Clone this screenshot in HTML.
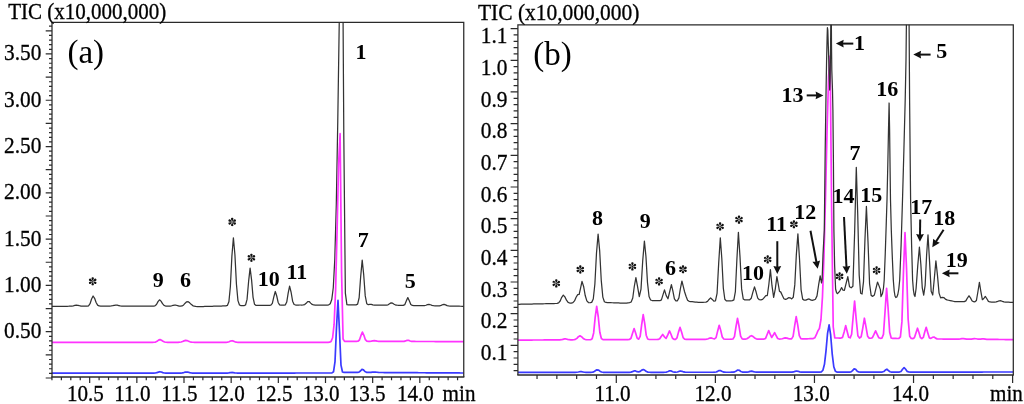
<!DOCTYPE html>
<html><head><meta charset="utf-8"><title>TIC chromatograms</title>
<style>html,body{margin:0;padding:0;background:#fff;width:1024px;height:404px;overflow:hidden}</style>
</head><body>
<svg width="1024" height="404" viewBox="0 0 1024 404" style="font-family:'Liberation Serif',serif;display:block;will-change:transform"><style>text{stroke:#000;stroke-width:0.3px;paint-order:stroke}text.n{stroke:none}</style><defs><clipPath id="ca"><rect x="52.0" y="22.4" width="411.75" height="354.6"/></clipPath><clipPath id="cb"><rect x="517.9" y="24.8" width="495.4" height="350.2"/></clipPath><marker id="ah" viewBox="0 0 8 8" refX="7.6" refY="4" markerWidth="8" markerHeight="8" markerUnits="userSpaceOnUse" orient="auto"><path d="M0,0 L7.6,4 L0,8 L0.6,4 Z" fill="#111"/></marker><g id="ast" fill="#111"><path d="M0,-0.4 C-0.45,-1.4 -1.3,-2.4 -1.2,-3.3 C-1.1,-4.45 1.1,-4.45 1.2,-3.3 C1.3,-2.4 0.45,-1.4 0,-0.4 Z" transform="rotate(0)"/><path d="M0,-0.4 C-0.45,-1.4 -1.3,-2.4 -1.2,-3.3 C-1.1,-4.45 1.1,-4.45 1.2,-3.3 C1.3,-2.4 0.45,-1.4 0,-0.4 Z" transform="rotate(60)"/><path d="M0,-0.4 C-0.45,-1.4 -1.3,-2.4 -1.2,-3.3 C-1.1,-4.45 1.1,-4.45 1.2,-3.3 C1.3,-2.4 0.45,-1.4 0,-0.4 Z" transform="rotate(120)"/><path d="M0,-0.4 C-0.45,-1.4 -1.3,-2.4 -1.2,-3.3 C-1.1,-4.45 1.1,-4.45 1.2,-3.3 C1.3,-2.4 0.45,-1.4 0,-0.4 Z" transform="rotate(180)"/><path d="M0,-0.4 C-0.45,-1.4 -1.3,-2.4 -1.2,-3.3 C-1.1,-4.45 1.1,-4.45 1.2,-3.3 C1.3,-2.4 0.45,-1.4 0,-0.4 Z" transform="rotate(240)"/><path d="M0,-0.4 C-0.45,-1.4 -1.3,-2.4 -1.2,-3.3 C-1.1,-4.45 1.1,-4.45 1.2,-3.3 C1.3,-2.4 0.45,-1.4 0,-0.4 Z" transform="rotate(300)"/><circle r="0.6"/></g></defs><rect width="1024" height="404" fill="#fff"/><polyline points="52,373.20 53.50,373.20 54.99,373.20 56.49,373.20 57.99,373.20 59.49,373.19 60.98,373.19 62.48,373.19 63.98,373.19 65.48,373.19 66.97,373.19 68.47,373.19 69.97,373.19 71.47,373.19 72.96,373.18 74.46,373.18 75.96,373.18 77.46,373.18 78.95,373.18 80.45,373.18 81.95,373.18 83.45,373.18 84.94,373.18 86.44,373.18 87.94,373.17 89.43,373.17 90.93,373.17 92.43,373.17 93.93,373.17 95.42,373.17 96.92,373.17 98.42,373.17 99.92,373.17 101.41,373.16 102.91,373.16 104.41,373.16 105.91,373.16 107.40,373.16 108.90,373.16 110.40,373.16 111.90,373.16 113.39,373.16 114.89,373.15 116.39,373.15 117.88,373.15 119.38,373.15 120.88,373.15 122.38,373.15 123.87,373.15 125.37,373.15 126.87,373.15 128.37,373.15 129.86,373.14 131.36,373.14 132.86,373.14 134.36,373.14 135.85,373.14 137.35,373.14 138.85,373.14 140.35,373.14 141.84,373.14 143.34,373.13 144.84,373.13 146.34,373.13 147.83,373.13 149.33,373.13 150.83,373.13 152.32,373.13 153.82,373.11 155.32,373.02 156.82,372.70 158.31,372.10 159.81,371.72 161.31,372.03 162.81,372.63 164.30,373.00 165.80,373.10 167.30,373.12 168.80,373.12 170.29,373.11 171.79,373.11 173.29,373.11 174.79,373.11 176.28,373.11 177.78,373.11 179.28,373.10 180.77,373.04 182.27,372.88 183.77,372.55 185.27,372.17 186.76,372.00 188.26,372.20 189.76,372.58 191.26,372.89 192.75,373.04 194.25,373.09 195.75,373.10 197.25,373.10 198.74,373.09 200.24,373.09 201.74,373.09 203.24,373.09 204.73,373.09 206.23,373.09 207.73,373.09 209.23,373.09 210.72,373.09 212.22,373.08 213.72,373.08 215.21,373.08 216.71,373.08 218.21,373.08 219.71,373.08 221.20,373.08 222.70,373.08 224.20,373.08 225.70,373.07 227.19,373.04 228.69,372.91 230.19,372.66 231.69,372.47 233.18,372.58 234.68,372.84 236.18,373.01 237.68,373.06 239.17,373.06 240.67,373.06 242.17,373.06 243.66,373.06 245.16,373.06 246.66,373.06 248.16,373.06 249.65,373.06 251.15,373.06 252.65,373.06 254.15,373.05 255.64,373.05 257.14,373.05 258.64,373.05 260.14,373.05 261.63,373.05 263.13,373.05 264.63,373.05 266.13,373.05 267.62,373.04 269.12,373.04 270.62,373.04 272.12,373.04 273.61,373.04 275.11,373.04 276.61,373.04 278.10,373.04 279.60,373.04 281.10,373.04 282.60,373.03 284.09,373.03 285.59,373.03 287.09,373.03 288.59,373.03 290.08,373.03 291.58,373.03 293.08,373.03 294.58,373.03 296.07,373.02 297.57,373.02 299.07,373.02 300.57,373.02 302.06,373.02 303.56,373.02 305.06,373.02 306.55,373.02 308.05,373.02 309.55,373.01 311.05,373.01 312.54,373.01 314.04,373.01 315.54,373.01 317.04,373.01 318.53,373.01 320.03,373.01 321.53,373.01 323.03,373.01 324.52,373.00 326.02,373.00 327.52,373.00 329.02,373.00 330.51,372.98 332.01,372.87 333.51,371.76 335.01,361.61 336.50,327.44 338,300.45 339.50,331.82 340.99,365.18 342.49,372.03 343.99,372.38 345.49,372.32 346.98,372.31 348.48,372.31 349.98,372.32 351.47,372.33 352.97,372.34 354.47,372.35 355.96,372.36 357.46,372.35 358.96,372.15 360.46,371.00 361.95,369.33 363.45,369.82 364.95,371.51 366.44,372.29 367.94,372.42 369.44,372.42 370.93,372.35 372.43,372.16 373.93,371.99 375.43,372.03 376.92,372.24 378.42,372.42 379.92,372.49 381.41,372.51 382.91,372.52 384.41,372.53 385.90,372.54 387.40,372.55 388.90,372.55 390.40,372.56 391.89,372.57 393.39,372.58 394.89,372.59 396.38,372.60 397.88,372.61 399.38,372.62 400.88,372.63 402.37,372.63 403.87,372.64 405.37,372.65 406.86,372.66 408.36,372.67 409.86,372.68 411.35,372.69 412.85,372.70 414.35,372.71 415.85,372.71 417.34,372.72 418.84,372.73 420.34,372.74 421.83,372.75 423.33,372.76 424.83,372.77 426.32,372.78 427.82,372.79 429.32,372.79 430.82,372.80 432.31,372.81 433.81,372.82 435.31,372.83 436.80,372.84 438.30,372.85 439.80,372.86 441.29,372.87 442.79,372.87 444.29,372.88 445.79,372.89 447.28,372.90 448.78,372.91 450.28,372.92 451.77,372.93 453.27,372.94 454.77,372.95 456.26,372.95 457.76,372.96 459.26,372.97 460.76,372.98 462.25,372.99 463.75,373.00" fill="none" stroke="#3a3aff" stroke-width="1.7" stroke-linejoin="round" clip-path="url(#ca)"/><polyline points="52,306.30 53.52,306.30 55.04,306.29 56.57,306.29 58.09,306.28 59.61,306.28 61.13,306.27 62.66,306.27 64.18,306.26 65.70,306.26 67.22,306.25 68.74,306.24 70.27,306.19 71.79,306.06 73.31,305.77 74.83,305.41 76.36,305.23 77.88,305.38 79.40,305.73 80.92,306.02 82.44,306.15 83.97,306.19 85.49,306.19 87.01,306.16 88.53,305.78 90.06,303.74 91.58,299.05 93.10,295.97 94.61,298.29 96.12,302.53 97.63,305.16 99.14,305.99 100.65,306.14 102.15,306.15 103.66,306.14 105.17,306.14 106.68,306.13 108.19,306.12 109.70,306.09 111.21,305.97 112.72,305.71 114.23,305.35 115.74,305.12 117.25,305.20 118.75,305.53 120.26,305.84 121.77,306.01 123.28,306.07 124.79,306.07 126.30,306.07 127.81,306.07 129.32,306.06 130.83,306.06 132.34,306.05 133.85,306.05 135.35,306.04 136.86,306.04 138.37,306.04 139.88,306.03 141.39,306.03 142.90,306.02 144.41,306.02 145.92,306.01 147.43,306.01 148.94,306.00 150.45,306.01 151.95,306.02 153.46,306.02 154.97,305.79 156.48,304.53 157.99,301.66 159.50,299.81 161.01,301.15 162.52,303.69 164.02,305.41 165.53,306.04 167.04,306.18 168.55,306.17 170.06,306.06 171.57,305.77 173.07,305.36 174.58,305.10 176.09,305.24 177.60,305.66 179.11,306.05 180.61,306.21 182.12,305.96 183.63,304.92 185.14,303.18 186.65,301.82 188.16,301.73 189.66,302.87 191.17,304.36 192.68,305.57 194.19,306.24 195.70,306.49 197.20,306.56 198.71,306.58 200.22,306.59 201.73,306.55 203.24,306.51 204.74,306.47 206.25,306.43 207.76,306.39 209.27,306.35 210.78,306.31 212.29,306.27 213.79,306.23 215.30,306.19 216.81,306.15 218.32,306.11 219.83,306.07 221.33,306.03 222.84,305.99 224.35,305.95 225.86,305.88 227.37,305.43 228.88,301.84 230.38,286.51 231.89,256.15 233.40,237.76 234.92,254.77 236.44,284.25 237.95,300.62 239.47,305.01 240.99,305.62 242.51,305.65 244.03,305.61 245.55,304.97 247.06,299.41 248.58,281.68 250.10,268.07 251.58,279.91 253.06,297.34 254.55,304.29 256.03,305.42 257.51,305.48 258.99,305.47 260.48,305.45 261.96,305.43 263.44,305.42 264.92,305.40 266.41,305.38 267.89,305.37 269.37,305.34 270.85,305.16 272.34,303.36 273.82,296.83 275.30,291.48 276.73,296.01 278.16,302.46 279.59,304.85 281.02,305.19 282.45,305.20 283.88,305.17 285.31,304.85 286.74,302.07 288.17,293.07 289.60,286.12 291.11,292.27 292.61,301.13 294.12,304.51 295.62,305.01 297.13,305.03 298.63,305.02 300.14,305.00 301.65,305.01 303.15,304.97 304.66,304.59 306.16,303.29 307.67,301.55 309.17,301.54 310.68,303.09 312.19,304.45 313.69,304.98 315.20,305.09 316.70,305.11 318.21,305.12 319.71,305.13 321.22,305.14 322.73,305.15 324.23,305.16 325.74,305.16 327.24,305.12 328.75,304.85 330.25,303.69 331.76,299.58 333.27,287.74 334.77,259.60 336.28,205.12 337.78,120.69 339.29,19.53 340.79,-66.15 342.30,-100.11 343.83,137.86 345.36,293.11 346.89,304.67 348.42,304.82 349.95,304.84 351.48,304.85 353.02,304.86 354.55,304.88 356.08,304.86 357.61,304.18 359.14,297.74 360.67,276.59 362.20,260.15 363.72,274.93 365.24,295.92 366.76,303.73 368.28,304.66 369.80,304.30 371.32,304.35 372.84,304.81 374.36,305.03 375.88,305.08 377.40,305.09 378.92,305.10 380.44,305.12 381.96,305.13 383.48,305.15 385,305.16 386.52,305.11 388.04,304.77 389.56,303.78 391.08,302.86 392.60,303.23 394.12,304.29 395.64,305.01 397.16,305.24 398.68,305.28 400.20,305.30 401.72,305.33 403.24,305.31 404.76,304.64 406.28,301.07 407.80,297.62 409.31,300.75 410.82,304.45 412.34,305.41 413.85,305.51 415.36,305.54 416.87,305.56 418.39,305.59 419.90,305.61 421.41,305.63 422.92,305.64 424.43,305.57 425.95,305.24 427.46,304.65 428.97,304.35 430.48,304.75 431.99,305.38 433.51,305.72 435.02,305.83 436.53,305.87 438.04,305.88 439.56,305.78 441.07,305.40 442.58,304.72 444.09,304.39 445.60,304.85 447.12,305.56 448.63,305.95 450.14,306.07 451.65,306.11 453.16,306.13 454.68,306.15 456.19,306.18 457.70,306.20 459.21,306.23 460.73,306.25 462.24,306.27 463.75,306.30" fill="none" stroke="#333333" stroke-width="1.25" stroke-linejoin="round" clip-path="url(#ca)"/><polyline points="52,342.30 53.50,342.30 55,342.30 56.50,342.30 58,342.30 59.50,342.30 61,342.30 62.50,342.30 64,342.30 65.50,342.30 67.01,342.30 68.51,342.30 70.01,342.30 71.51,342.30 73.01,342.30 74.51,342.30 76.01,342.30 77.51,342.30 79.01,342.30 80.51,342.30 82.01,342.30 83.51,342.30 85.01,342.30 86.51,342.30 88.01,342.30 89.51,342.30 91.01,342.30 92.51,342.30 94.01,342.30 95.52,342.30 97.02,342.30 98.52,342.30 100.02,342.30 101.52,342.30 103.02,342.30 104.52,342.30 106.02,342.30 107.52,342.30 109.02,342.30 110.52,342.30 112.02,342.30 113.52,342.30 115.02,342.30 116.52,342.30 118.02,342.30 119.52,342.30 121.02,342.30 122.52,342.30 124.03,342.30 125.53,342.30 127.03,342.30 128.53,342.30 130.03,342.30 131.53,342.30 133.03,342.30 134.53,342.30 136.03,342.30 137.53,342.30 139.03,342.30 140.53,342.30 142.03,342.30 143.53,342.30 145.03,342.30 146.53,342.30 148.03,342.30 149.53,342.30 151.03,342.30 152.53,342.30 154.04,342.26 155.54,342.05 157.04,341.33 158.54,340.16 160.04,339.61 161.54,340.25 163.04,341.32 164.54,342.01 166.04,342.25 167.54,342.29 169.04,342.30 170.54,342.30 172.04,342.30 173.54,342.30 175.04,342.30 176.54,342.30 178.04,342.29 179.54,342.22 181.04,342.01 182.55,341.53 184.05,340.86 185.55,340.42 187.05,340.59 188.55,341.22 190.05,341.82 191.55,342.15 193.05,342.27 194.55,342.30 196.05,342.30 197.55,342.30 199.05,342.30 200.55,342.30 202.05,342.30 203.55,342.30 205.05,342.30 206.55,342.30 208.05,342.30 209.55,342.30 211.06,342.30 212.56,342.30 214.06,342.30 215.56,342.30 217.06,342.30 218.56,342.30 220.06,342.30 221.56,342.30 223.06,342.30 224.56,342.30 226.06,342.28 227.56,342.15 229.06,341.72 230.56,341.02 232.06,340.71 233.56,341.17 235.06,341.84 236.56,342.19 238.06,342.29 239.57,342.30 241.07,342.30 242.57,342.30 244.07,342.30 245.57,342.30 247.07,342.30 248.57,342.30 250.07,342.30 251.57,342.30 253.07,342.30 254.57,342.30 256.07,342.30 257.57,342.30 259.07,342.30 260.57,342.30 262.07,342.30 263.57,342.30 265.07,342.30 266.57,342.30 268.08,342.30 269.58,342.30 271.08,342.30 272.58,342.30 274.08,342.30 275.58,342.30 277.08,342.30 278.58,342.30 280.08,342.30 281.58,342.30 283.08,342.30 284.58,342.30 286.08,342.30 287.58,342.30 289.08,342.30 290.58,342.30 292.08,342.30 293.58,342.30 295.08,342.30 296.58,342.30 298.09,342.30 299.59,342.30 301.09,342.30 302.59,342.30 304.09,342.30 305.59,342.30 307.09,342.30 308.59,342.30 310.09,342.30 311.59,342.30 313.09,342.30 314.59,342.30 316.09,342.30 317.59,342.30 319.09,342.30 320.59,342.30 322.09,342.30 323.59,342.30 325.09,342.30 326.60,342.30 328.10,342.29 329.60,342.19 331.10,341.43 332.60,337.76 334.10,324.47 335.60,290.13 337.10,229.71 338.60,163.53 340.10,133.67 341.59,272.69 343.07,338.98 344.56,341.38 346.05,341.30 347.53,341.30 349.02,341.31 350.51,341.31 351.99,341.32 353.48,341.32 354.97,341.32 356.45,341.32 357.94,341.22 359.43,340.03 360.91,335.65 362.40,332.04 363.89,335.32 365.38,339.71 366.87,341.17 368.36,341.34 369.85,341.31 371.34,341.16 372.83,340.87 374.32,340.67 375.81,340.81 377.30,341.12 378.79,341.31 380.29,341.38 381.78,341.39 383.27,341.39 384.76,341.40 386.25,341.40 387.74,341.41 389.23,341.41 390.72,341.41 392.21,341.42 393.70,341.42 395.19,341.43 396.68,341.43 398.17,341.43 399.66,341.44 401.15,341.44 402.64,341.44 404.13,341.35 405.62,340.94 407.11,340.27 408.60,340.31 410.09,341.00 411.58,341.39 413.07,341.46 414.57,341.47 416.06,341.48 417.55,341.48 419.04,341.49 420.53,341.49 422.02,341.49 423.51,341.50 425,341.50 426.49,341.50 427.98,341.51 429.47,341.51 430.96,341.52 432.45,341.52 433.94,341.52 435.43,341.53 436.92,341.53 438.41,341.53 439.90,341.54 441.39,341.54 442.88,341.55 444.37,341.55 445.86,341.55 447.36,341.56 448.85,341.56 450.34,341.57 451.83,341.57 453.32,341.57 454.81,341.58 456.30,341.58 457.79,341.58 459.28,341.59 460.77,341.59 462.26,341.60 463.75,341.60" fill="none" stroke="#ff33ff" stroke-width="1.7" stroke-linejoin="round" clip-path="url(#ca)"/><polyline points="517.90,372.40 519.45,372.40 521,372.40 522.54,372.40 524.09,372.40 525.64,372.39 527.19,372.39 528.74,372.39 530.29,372.39 531.83,372.39 533.38,372.39 534.93,372.39 536.48,372.39 538.03,372.38 539.58,372.38 541.12,372.38 542.67,372.38 544.22,372.38 545.77,372.38 547.32,372.38 548.87,372.38 550.41,372.37 551.96,372.37 553.51,372.37 555.06,372.37 556.61,372.37 558.15,372.37 559.70,372.37 561.25,372.37 562.80,372.36 564.35,372.36 565.90,372.36 567.44,372.36 568.99,372.36 570.54,372.36 572.09,372.36 573.64,372.35 575.19,372.34 576.73,372.25 578.28,372.01 579.83,371.71 581.38,371.69 582.93,371.97 584.48,372.23 586.02,372.32 587.57,372.34 589.12,372.34 590.67,372.33 592.22,372.25 593.76,371.84 595.31,370.83 596.86,369.83 598.41,370.05 599.96,371.19 601.51,372.02 603.05,372.28 604.60,372.33 606.15,372.33 607.70,372.33 609.25,372.33 610.80,372.33 612.34,372.32 613.89,372.32 615.44,372.32 616.99,372.32 618.54,372.32 620.09,372.32 621.63,372.32 623.18,372.32 624.73,372.31 626.28,372.31 627.83,372.31 629.37,372.29 630.92,372.14 632.47,371.61 634.02,370.91 635.57,370.97 637.12,371.67 638.66,371.96 640.21,371.37 641.76,370.14 643.31,369.50 644.86,370.31 646.41,371.52 647.95,372.13 649.50,372.27 651.05,372.29 652.60,372.29 654.15,372.29 655.70,372.29 657.24,372.29 658.79,372.29 660.34,372.29 661.89,372.28 663.44,372.28 664.98,372.25 666.53,372.06 668.08,371.43 669.63,370.73 671.18,370.94 672.73,371.72 674.27,372.16 675.82,372.22 677.37,372.01 678.92,371.43 680.47,370.97 682.02,371.31 683.56,371.93 685.11,372.21 686.66,372.26 688.21,372.26 689.76,372.26 691.30,372.26 692.85,372.26 694.40,372.26 695.95,372.26 697.50,372.26 699.05,372.25 700.59,372.25 702.14,372.25 703.69,372.25 705.24,372.25 706.79,372.25 708.34,372.25 709.88,372.25 711.43,372.24 712.98,372.24 714.53,372.22 716.08,372.03 717.63,371.37 719.17,370.54 720.72,370.66 722.27,371.53 723.82,372.08 725.37,372.22 726.91,372.23 728.46,372.23 730.01,372.23 731.56,372.22 733.11,372.18 734.66,371.89 736.20,370.98 737.75,369.99 739.30,370.31 740.85,371.44 742.40,372.07 743.95,372.20 745.49,372.21 747.04,372.16 748.59,371.89 750.14,371.35 751.69,371.13 753.24,371.56 754.78,372.02 756.33,372.18 757.88,372.20 759.43,372.20 760.98,372.20 762.52,372.20 764.07,372.20 765.62,372.20 767.17,372.20 768.72,372.20 770.27,372.20 771.81,372.20 773.36,372.19 774.91,372.19 776.46,372.19 778.01,372.19 779.56,372.19 781.10,372.19 782.65,372.19 784.20,372.19 785.75,372.18 787.30,372.18 788.85,372.18 790.39,372.18 791.94,372.14 793.49,371.93 795.04,371.39 796.59,370.98 798.13,371.30 799.68,371.87 801.23,372.12 802.78,372.17 804.33,372.17 805.88,372.17 807.42,372.17 808.97,372.17 810.52,372.16 812.07,372.16 813.62,372.16 815.17,372.16 816.71,372.16 818.26,372.15 819.81,372.12 821.36,371.83 822.91,370.22 824.46,364.31 826,350.87 827.55,333.41 829.10,324.85 830.66,334.98 832.23,354.12 833.79,366.75 835.35,371.15 836.91,372.03 838.48,372.13 840.04,372.14 841.60,372.14 843.16,372.14 844.73,372.14 846.29,372.13 847.85,372.13 849.41,372.11 850.98,371.86 852.54,370.60 854.10,368.80 855.66,369.32 857.23,371.21 858.79,372.01 860.35,372.12 861.91,372.12 863.48,372.12 865.04,372.12 866.60,372.12 868.16,372.12 869.73,372.12 871.29,372.11 872.85,372.11 874.41,372.11 875.98,372.11 877.54,372.11 879.10,372.11 880.66,372.10 882.23,372.05 883.79,371.55 885.35,370.07 886.91,369.23 888.48,370.53 890.04,371.77 891.60,372.07 893.16,372.10 894.73,372.10 896.29,372.09 897.85,372.09 899.41,372.03 900.98,371.42 902.54,369.30 904.10,367.59 905.66,369.29 907.22,371.41 908.78,372.02 910.34,372.08 911.90,372.08 913.46,372.08 915.02,372.08 916.58,372.08 918.14,372.08 919.70,372.08 921.26,372.07 922.82,372.07 924.38,372.07 925.94,372.07 927.50,372.07 929.06,372.07 930.62,372.07 932.18,372.07 933.74,372.06 935.30,372.06 936.86,372.06 938.42,372.06 939.98,372.06 941.54,372.06 943.10,372.06 944.66,372.06 946.22,372.05 947.78,372.05 949.34,372.05 950.90,372.05 952.46,372.05 954.02,372.05 955.58,372.05 957.14,372.05 958.70,372.04 960.26,372.04 961.82,372.04 963.38,372.04 964.94,372.04 966.50,372.04 968.06,372.04 969.62,372.04 971.18,372.03 972.74,372.03 974.30,372.03 975.86,372.03 977.42,372.03 978.98,372.03 980.54,372.03 982.10,372.03 983.66,372.02 985.22,372.02 986.78,372.02 988.34,372.02 989.90,372.02 991.46,372.02 993.02,372.02 994.58,372.02 996.14,372.01 997.70,372.01 999.26,372.01 1000.82,372.01 1002.38,372.01 1003.94,372.01 1005.50,372.01 1007.06,372.01 1008.62,372.00 1010.18,372.00 1011.74,372.00 1013.30,372.00" fill="none" stroke="#3a3aff" stroke-width="1.7" stroke-linejoin="round" clip-path="url(#cb)"/><polyline points="517.90,340.10 519.45,340.09 521,340.09 522.56,340.08 524.11,340.07 525.66,340.06 527.22,340.05 528.77,340.05 530.32,340.04 531.87,340.03 533.42,340.02 534.98,340.02 536.53,340.01 538.08,340.00 539.63,339.99 541.19,339.99 542.74,339.98 544.29,339.97 545.85,339.96 547.40,339.96 548.95,339.95 550.50,339.94 552.05,339.93 553.61,339.93 555.16,339.92 556.71,339.91 558.26,339.90 559.82,339.86 561.37,339.71 562.92,339.33 564.48,338.92 566.03,338.97 567.58,339.39 569.13,339.72 570.68,339.82 572.24,339.82 573.79,339.75 575.34,339.39 576.89,338.33 578.45,336.69 580,335.80 581.52,336.64 583.04,338.24 584.55,339.30 586.07,339.68 587.59,339.75 589.11,339.75 590.63,339.69 592.15,338.81 593.66,332.95 595.18,317.31 596.70,306.31 598.26,316.75 599.82,332.24 601.38,338.55 602.93,339.60 604.49,339.67 606.05,339.67 607.61,339.66 609.17,339.65 610.73,339.65 612.28,339.64 613.84,339.63 615.40,339.62 616.96,339.61 618.52,339.61 620.08,339.60 621.63,339.59 623.19,339.59 624.75,339.58 626.31,339.58 627.87,339.57 629.43,339.48 630.98,338.29 632.54,333.15 634.10,328.55 635.62,332.95 637.13,338.11 638.65,339.18 640.17,336.29 641.68,324.53 643.20,314.52 644.70,323.41 646.20,335.20 647.70,339.03 649.20,339.48 650.70,339.50 652.20,339.49 653.70,339.49 655.20,339.48 656.70,339.48 658.20,339.42 659.70,338.79 661.20,336.43 662.70,334.46 664.40,336.80 666.10,338.41 667.80,334.95 669.50,330.93 671,334.27 672.50,338.27 674,339.32 675.50,339.28 677,337.79 678.50,332.13 680,327.40 681.57,331.97 683.14,337.63 684.70,339.23 686.27,339.37 687.84,339.37 689.41,339.37 690.98,339.36 692.54,339.36 694.11,339.35 695.68,339.35 697.25,339.34 698.82,339.34 700.38,339.33 701.95,339.33 703.52,339.32 705.09,339.29 706.66,339.15 708.22,338.70 709.79,338.07 711.36,337.95 712.93,338.49 714.50,338.93 716.06,337.66 717.63,331.16 719.20,325.27 720.73,330.38 722.25,336.98 723.78,339.02 725.30,339.24 726.83,339.24 728.35,339.24 729.88,339.23 731.40,339.22 732.92,339.02 734.45,336.59 735.98,326.81 737.50,318.41 739.06,326.27 740.62,336.09 742.18,338.90 743.74,339.17 745.30,339.11 746.86,338.76 748.42,337.77 749.98,336.32 751.54,335.67 753.10,336.56 754.66,337.98 756.22,338.83 757.78,339.09 759.34,339.13 760.90,339.13 762.46,339.12 764.02,339.09 765.58,338.41 767.14,334.54 768.70,330.60 770.18,334.18 771.65,337.47 773.12,335.30 774.60,332.58 776.14,335.54 777.69,338.50 779.23,339.03 780.77,338.99 782.31,338.72 783.86,338.20 785.40,337.85 786.94,338.12 788.49,338.64 790.03,338.94 791.57,338.83 793.11,336.33 794.66,325.88 796.20,316.71 797.75,325.06 799.30,335.59 800.85,338.65 802.40,338.92 803.95,338.89 805.50,338.84 807.05,338.80 808.60,338.75 810.15,338.71 811.70,338.66 813.25,338.55 814.80,337.80 816.35,334.74 817.90,330.87 819.42,328.51 820.95,319.72 822.48,296.60 824,255.32 825.52,196.55 827.05,130.53 828.58,76.94 830.10,56.14 831.66,211.93 833.22,326.75 834.78,337.80 836.34,338.01 837.90,338.02 839.46,338.03 841.02,338.03 842.58,337.36 844.14,331.99 845.70,325.58 847.18,331.57 848.67,337.18 850.15,337.84 851.63,334.21 853.12,317.03 854.60,301.15 856.23,319.43 857.87,335.74 859.50,338.06 861.13,336.89 862.77,328.09 864.40,318.23 866,326.92 867.60,336.20 869.20,338.14 870.80,338.25 872.40,337.74 874,334.40 875.60,330.81 877.17,334.33 878.74,337.73 880.31,338.32 881.89,338.19 883.46,334.35 885.03,311.75 886.60,288.40 888.13,308.76 889.67,332.24 891.20,337.98 892.73,338.43 894.27,338.46 895.80,338.47 897.33,338.48 898.87,338.42 900.40,336.81 901.93,321.64 903.47,271.57 905,232.56 906.56,269.10 908.12,319.03 909.69,336.25 911.25,338.52 912.81,338.62 914.38,337.81 915.94,333.07 917.50,328.22 918.95,332.60 920.40,337.52 921.85,338.60 923.30,337.44 924.75,332.08 926.20,327.33 927.76,332.64 929.31,337.85 930.87,338.41 932.42,337.36 933.98,337.02 935.53,338.15 937.09,338.85 938.64,338.98 940.20,339.00 941.75,339.01 943.31,339.03 944.86,339.04 946.42,339.05 947.98,339.07 949.53,339.08 951.09,339.09 952.64,339.10 954.20,339.12 955.75,339.13 957.31,339.13 958.86,339.08 960.42,338.91 961.97,338.65 963.53,338.61 965.08,338.86 966.64,339.10 968.19,339.21 969.75,339.22 971.31,339.15 972.86,338.93 974.42,338.71 975.97,338.76 977.53,339.03 979.08,339.17 980.64,339.07 982.19,338.88 983.75,338.89 985.30,339.11 986.86,339.31 988.41,339.38 989.97,339.41 991.52,339.42 993.08,339.43 994.64,339.45 996.19,339.46 997.75,339.47 999.30,339.49 1000.86,339.50 1002.41,339.51 1003.97,339.52 1005.52,339.54 1007.08,339.55 1008.63,339.56 1010.19,339.57 1011.74,339.59 1013.30,339.60" fill="none" stroke="#ff33ff" stroke-width="1.7" stroke-linejoin="round" clip-path="url(#cb)"/><polyline points="517.90,304.30 519.47,304.27 521.03,304.24 522.60,304.20 524.16,304.17 525.73,304.14 527.29,304.11 528.86,304.08 530.42,304.04 531.99,304.01 533.56,303.98 535.12,303.95 536.69,303.91 538.25,303.88 539.82,303.85 541.38,303.82 542.95,303.78 544.51,303.75 546.08,303.72 547.64,303.69 549.21,303.65 550.78,303.61 552.34,303.58 553.91,303.54 555.47,303.50 557.04,303.41 558.60,302.91 560.17,300.99 561.73,297.33 563.30,295.13 564.90,296.86 566.50,300.15 568.10,302.31 569.70,303.03 571.30,303.11 572.90,302.69 574.50,300.89 576.10,297.26 577.70,294.69 579.13,294.49 580.57,288.08 582,281.33 583.61,286.48 585.22,295.53 586.83,300.93 588.44,302.53 590.05,302.75 591.66,302.38 593.27,299.03 594.88,283.96 596.49,253.13 598.10,234.14 599.68,250.90 601.25,280.34 602.83,297.09 604.40,301.75 605.98,302.47 607.55,302.59 609.12,302.64 610.70,302.70 612.27,302.75 613.85,302.81 615.42,302.86 617,302.92 618.58,302.98 620.15,303.03 621.73,303.09 623.30,303.14 624.88,303.20 626.45,303.04 628.02,302.87 629.60,302.68 631.17,302.02 632.75,297.96 634.32,286.24 635.90,277.52 637.60,286.88 639.30,296.70 641,289.10 642.70,261.07 644.40,241.10 645.95,256.44 647.49,282.61 649.04,296.53 650.58,300.01 652.13,300.52 653.68,300.59 655.22,300.63 656.77,300.67 658.32,300.71 659.86,300.70 661.41,299.83 662.95,294.85 664.50,289.86 666.23,295.67 667.95,298.81 669.67,291.75 671.40,284.53 672.90,291.06 674.40,298.88 675.90,300.95 677.40,300.81 678.90,297.86 680.40,288.67 681.90,281.03 683.20,286.04 684.50,291.50 686.04,296.30 687.57,300.17 689.11,301.35 690.64,301.56 692.18,301.72 693.71,301.87 695.25,302.02 696.78,302.18 698.32,302.33 699.85,302.49 701.39,302.42 702.92,302.34 704.46,302.25 705.99,302.10 707.53,301.45 709.06,299.47 710.60,297.91 712.22,299.42 713.83,301.19 715.45,300.96 717.07,293.31 718.68,263.35 720.30,237.87 721.81,258.45 723.32,288.05 724.82,299.28 726.33,300.92 727.84,300.95 729.35,300.87 730.86,300.79 732.37,300.68 733.88,299.90 735.38,291.53 736.89,259.44 738.40,232.37 740.01,256.85 741.62,288.88 743.23,298.90 744.84,299.96 746.45,299.98 748.06,299.96 749.67,299.81 751.28,298.21 752.89,292.08 754.50,286.89 756.11,292.06 757.73,298.16 759.34,299.71 760.96,299.80 762.57,299.41 764.19,297.54 765.80,295.71 767.33,295.52 768.87,284.28 770.40,269.68 772.02,285.94 773.65,297.35 775.27,289.11 776.90,276.57 778.20,283.74 779.50,291.27 780.80,292.13 782.35,295.48 783.91,298.75 785.46,299.40 787.02,298.84 788.57,297.68 790.13,297.85 791.68,298.91 793.24,297.31 794.79,284.89 796.35,254.36 797.90,233.89 799.49,258.56 801.09,289.82 802.68,299.14 804.27,300.16 805.86,300.07 807.46,299.37 809.05,298.97 810.64,299.83 812.24,300.41 813.83,299.97 815.42,299.19 817.01,295.88 818.61,284.97 820.20,275.83 821.50,283.00 822.10,280.00 823,255.00 824.30,230.00 825.20,150.00 826,95.00 826.60,60.00 827.10,38.00 827.40,27.70 827.80,30.00 828.60,55.00 829.30,80.00 829.70,90.00 830.10,80.00 830.60,45.00 830.90,10.00 831.30,10.00 831.50,45.00 831.80,70.00 832.50,90.00 832.90,110.00 833.40,160.00 833.90,230.00 834.60,265.00 835.60,289.00 836.50,292.50 837.30,293.70 838.54,292.57 840.07,290.52 841.60,287.63 843,290.18 844.40,290.27 845.80,284.61 847.80,276.58 849.50,286.71 851.20,287.77 852.90,286.32 854.60,233.60 856.30,167.31 857.74,214.69 859.19,275.10 860.63,293.26 862.07,293.99 863.51,281.56 864.96,239.44 866.40,206.45 867.99,241.36 869.57,283.74 871.16,295.36 872.74,296.39 874.33,295.03 875.91,288.55 877.50,282.06 878.96,285.63 880.41,289.65 881,296.60 882.50,293.50 883.50,288.00 884.20,280.00 885.20,255.00 886.20,225.00 887,200.00 887.80,165.00 888.50,130.00 889.10,103.00 889.60,130.00 890.10,170.00 890.50,200.00 891.30,230.00 892.30,257.00 893.30,280.00 894.20,291.00 895,296.00 895.80,297.50 896.80,297.00 897.80,294.50 898.80,289.00 899.70,280.00 901.10,245.00 902.50,200.00 903.90,150.00 905.20,100.00 906,60.00 906.40,24.00 907,-10.00 908.60,-10.00 909.10,24.00 909.60,100.00 910.10,150.00 910.60,200.00 911.60,245.00 912.60,280.00 913.40,290.00 914.20,295.00 915,296.50 916.09,288.46 917.74,265.88 919.40,247.04 920.83,264.01 922.27,287.85 923.70,295.13 925.13,285.41 926.57,255.76 928,234.80 929.58,261.86 931.16,291.33 932.74,295.01 934.32,278.56 935.90,260.93 937.48,275.37 939.05,293.08 940.63,297.83 942.20,297.36 943.78,297.54 945.36,299.16 946.93,299.91 948.51,300.26 950.09,300.58 951.66,300.91 953.24,301.24 954.81,301.56 956.39,301.62 957.97,301.64 959.54,301.65 961.12,301.67 962.70,301.69 964.27,301.64 965.85,300.87 967.42,298.06 969,295.77 970.49,297.89 971.97,300.73 973.46,301.70 974.94,301.78 976.43,300.43 977.91,291.73 979.40,282.39 980.88,291.60 982.35,299.65 983.82,298.50 985.30,296.46 986.86,298.77 988.41,301.36 989.97,301.98 991.52,302.04 993.08,302.05 994.63,302.04 996.19,301.89 997.74,301.41 999.30,300.78 1000.86,300.73 1002.41,301.36 1003.97,301.93 1005.52,302.16 1007.08,302.22 1008.63,302.24 1010.19,302.26 1011.74,302.28 1013.30,302.30" fill="none" stroke="#333333" stroke-width="1.25" stroke-linejoin="round" clip-path="url(#cb)"/><path d="M52.0,377.0 L52.0,22.4 L463.75,22.4 L463.75,377.0" fill="none" stroke="#2a2a2a" stroke-width="1.25"/><path d="M51.4,377.0 L464.35,377.0" fill="none" stroke="#2a2a2a" stroke-width="1.6"/><path d="M45.70,378.00H52.0 M49.00,373.37H52.0 M49.00,368.74H52.0 M49.00,364.11H52.0 M49.00,359.48H52.0 M45.70,354.86H52.0 M49.00,350.23H52.0 M49.00,345.60H52.0 M49.00,340.97H52.0 M49.00,336.34H52.0 M45.70,331.71H52.0 M49.00,327.08H52.0 M49.00,322.45H52.0 M49.00,317.82H52.0 M49.00,313.19H52.0 M45.70,308.56H52.0 M49.00,303.94H52.0 M49.00,299.31H52.0 M49.00,294.68H52.0 M49.00,290.05H52.0 M45.70,285.42H52.0 M49.00,280.79H52.0 M49.00,276.16H52.0 M49.00,271.53H52.0 M49.00,266.90H52.0 M45.70,262.27H52.0 M49.00,257.65H52.0 M49.00,253.02H52.0 M49.00,248.39H52.0 M49.00,243.76H52.0 M45.70,239.13H52.0 M49.00,234.50H52.0 M49.00,229.87H52.0 M49.00,225.24H52.0 M49.00,220.61H52.0 M45.70,215.99H52.0 M49.00,211.36H52.0 M49.00,206.73H52.0 M49.00,202.10H52.0 M49.00,197.47H52.0 M45.70,192.84H52.0 M49.00,188.21H52.0 M49.00,183.58H52.0 M49.00,178.95H52.0 M49.00,174.32H52.0 M45.70,169.70H52.0 M49.00,165.07H52.0 M49.00,160.44H52.0 M49.00,155.81H52.0 M49.00,151.18H52.0 M45.70,146.55H52.0 M49.00,141.92H52.0 M49.00,137.29H52.0 M49.00,132.66H52.0 M49.00,128.03H52.0 M45.70,123.41H52.0 M49.00,118.78H52.0 M49.00,114.15H52.0 M49.00,109.52H52.0 M49.00,104.89H52.0 M45.70,100.26H52.0 M49.00,95.63H52.0 M49.00,91.00H52.0 M49.00,86.37H52.0 M49.00,81.74H52.0 M45.70,77.12H52.0 M49.00,72.49H52.0 M49.00,67.86H52.0 M49.00,63.23H52.0 M49.00,58.60H52.0 M45.70,53.97H52.0 M49.00,49.34H52.0 M49.00,44.71H52.0 M49.00,40.08H52.0 M49.00,35.45H52.0 M45.70,30.83H52.0 M49.00,26.20H52.0 M51.94,377.0V380.30 M61.37,377.0V380.30 M70.80,377.0V380.30 M80.24,377.0V380.30 M89.67,377.0V383.00 M99.10,377.0V380.30 M108.54,377.0V380.30 M117.97,377.0V380.30 M127.40,377.0V380.30 M136.84,377.0V383.00 M146.27,377.0V380.30 M155.70,377.0V380.30 M165.13,377.0V380.30 M174.57,377.0V380.30 M184.00,377.0V383.00 M193.43,377.0V380.30 M202.87,377.0V380.30 M212.30,377.0V380.30 M221.73,377.0V380.30 M231.17,377.0V383.00 M240.60,377.0V380.30 M250.03,377.0V380.30 M259.46,377.0V380.30 M268.90,377.0V380.30 M278.33,377.0V383.00 M287.76,377.0V380.30 M297.20,377.0V380.30 M306.63,377.0V380.30 M316.06,377.0V380.30 M325.50,377.0V383.00 M334.93,377.0V380.30 M344.36,377.0V380.30 M353.79,377.0V380.30 M363.23,377.0V380.30 M372.66,377.0V383.00 M382.09,377.0V380.30 M391.53,377.0V380.30 M400.96,377.0V380.30 M410.39,377.0V380.30 M419.82,377.0V383.00 M429.26,377.0V380.30 M438.69,377.0V380.30 M448.12,377.0V380.30 M457.56,377.0V380.30" stroke="#2a2a2a" stroke-width="1.2" fill="none"/><path d="M517.9,375.0 L517.9,24.8 L1013.3,24.8 L1013.3,375.0" fill="none" stroke="#2a2a2a" stroke-width="1.25"/><path d="M517.3,375.0 L1013.9,375.0" fill="none" stroke="#2a2a2a" stroke-width="1.6"/><path d="M510.60,28.63H517.9 M513.60,34.96H517.9 M513.60,41.30H517.9 M513.60,47.63H517.9 M513.60,53.97H517.9 M510.60,60.30H517.9 M513.60,66.63H517.9 M513.60,72.97H517.9 M513.60,79.30H517.9 M513.60,85.64H517.9 M510.60,91.97H517.9 M513.60,98.30H517.9 M513.60,104.64H517.9 M513.60,110.97H517.9 M513.60,117.31H517.9 M510.60,123.64H517.9 M513.60,129.97H517.9 M513.60,136.31H517.9 M513.60,142.64H517.9 M513.60,148.98H517.9 M510.60,155.31H517.9 M513.60,161.64H517.9 M513.60,167.98H517.9 M513.60,174.31H517.9 M513.60,180.65H517.9 M510.60,186.98H517.9 M513.60,193.31H517.9 M513.60,199.65H517.9 M513.60,205.98H517.9 M513.60,212.32H517.9 M510.60,218.65H517.9 M513.60,224.98H517.9 M513.60,231.32H517.9 M513.60,237.65H517.9 M513.60,243.99H517.9 M510.60,250.32H517.9 M513.60,256.65H517.9 M513.60,262.99H517.9 M513.60,269.32H517.9 M513.60,275.66H517.9 M510.60,281.99H517.9 M513.60,288.32H517.9 M513.60,294.66H517.9 M513.60,300.99H517.9 M513.60,307.33H517.9 M510.60,313.66H517.9 M513.60,319.99H517.9 M513.60,326.33H517.9 M513.60,332.66H517.9 M513.60,339.00H517.9 M510.60,345.33H517.9 M513.60,351.66H517.9 M513.60,358.00H517.9 M513.60,364.33H517.9 M513.60,370.67H517.9 M537.04,375.0V379.00 M556.85,375.0V379.00 M576.67,375.0V379.00 M596.48,375.0V379.00 M616.30,375.0V383.00 M636.12,375.0V379.00 M655.93,375.0V379.00 M675.75,375.0V379.00 M695.56,375.0V379.00 M715.38,375.0V383.00 M735.20,375.0V379.00 M755.01,375.0V379.00 M774.83,375.0V379.00 M794.64,375.0V379.00 M814.46,375.0V383.00 M834.28,375.0V379.00 M854.09,375.0V379.00 M873.91,375.0V379.00 M893.72,375.0V379.00 M913.54,375.0V383.00 M933.36,375.0V379.00 M953.17,375.0V379.00 M972.99,375.0V379.00 M992.80,375.0V379.00 M1012.62,375.0V383.00" stroke="#2a2a2a" stroke-width="1.2" fill="none"/><text transform="translate(8.2,18.7) scale(0.955,1.03)" font-size="22" font-weight="400" text-anchor="start">TIC (x10,000,000)</text><text transform="translate(478.0,19.9) scale(0.975,1.03)" font-size="22" font-weight="400" text-anchor="start">TIC (x10,000,000)</text><text x="67.4" y="63.2" font-size="33" font-weight="400" text-anchor="start" class="n">(a)</text><text x="533.3" y="64.6" font-size="33" font-weight="400" text-anchor="start" class="n">(b)</text><text transform="translate(41.3,60.47) scale(0.97,1.04)" font-size="22" font-weight="400" text-anchor="end">3.50</text><text transform="translate(41.3,106.76) scale(0.97,1.04)" font-size="22" font-weight="400" text-anchor="end">3.00</text><text transform="translate(41.3,153.05) scale(0.97,1.04)" font-size="22" font-weight="400" text-anchor="end">2.50</text><text transform="translate(41.3,199.34) scale(0.97,1.04)" font-size="22" font-weight="400" text-anchor="end">2.00</text><text transform="translate(41.3,245.63) scale(0.97,1.04)" font-size="22" font-weight="400" text-anchor="end">1.50</text><text transform="translate(41.3,291.92) scale(0.97,1.04)" font-size="22" font-weight="400" text-anchor="end">1.00</text><text transform="translate(41.3,338.21) scale(0.97,1.04)" font-size="22" font-weight="400" text-anchor="end">0.50</text><text transform="translate(507.5,43.23) scale(0.97,1.04)" font-size="22" font-weight="400" text-anchor="end">1.1</text><text transform="translate(507.5,74.90) scale(0.97,1.04)" font-size="22" font-weight="400" text-anchor="end">1.0</text><text transform="translate(507.5,106.57) scale(0.97,1.04)" font-size="22" font-weight="400" text-anchor="end">0.9</text><text transform="translate(507.5,138.24) scale(0.97,1.04)" font-size="22" font-weight="400" text-anchor="end">0.8</text><text transform="translate(507.5,169.91) scale(0.97,1.04)" font-size="22" font-weight="400" text-anchor="end">0.7</text><text transform="translate(507.5,201.58) scale(0.97,1.04)" font-size="22" font-weight="400" text-anchor="end">0.6</text><text transform="translate(507.5,233.25) scale(0.97,1.04)" font-size="22" font-weight="400" text-anchor="end">0.5</text><text transform="translate(507.5,264.92) scale(0.97,1.04)" font-size="22" font-weight="400" text-anchor="end">0.4</text><text transform="translate(507.5,296.59) scale(0.97,1.04)" font-size="22" font-weight="400" text-anchor="end">0.3</text><text transform="translate(507.5,328.26) scale(0.97,1.04)" font-size="22" font-weight="400" text-anchor="end">0.2</text><text transform="translate(507.5,359.93) scale(0.97,1.04)" font-size="22" font-weight="400" text-anchor="end">0.1</text><text transform="translate(66.9,400.5) scale(0.96,1.04)" font-size="22" font-weight="400" text-anchor="start">10.5</text><text transform="translate(114.3,400.5) scale(0.96,1.04)" font-size="22" font-weight="400" text-anchor="start">11.0</text><text transform="translate(161.3,400.5) scale(0.96,1.04)" font-size="22" font-weight="400" text-anchor="start">11.5</text><text transform="translate(207.9,400.5) scale(0.96,1.04)" font-size="22" font-weight="400" text-anchor="start">12.0</text><text transform="translate(255.5,400.5) scale(0.96,1.04)" font-size="22" font-weight="400" text-anchor="start">12.5</text><text transform="translate(302.7,400.5) scale(0.96,1.04)" font-size="22" font-weight="400" text-anchor="start">13.0</text><text transform="translate(348.7,400.5) scale(0.96,1.04)" font-size="22" font-weight="400" text-anchor="start">13.5</text><text transform="translate(396.9,400.5) scale(0.96,1.04)" font-size="22" font-weight="400" text-anchor="start">14.0</text><text transform="translate(442.6,400.5) scale(0.96,1.04)" font-size="22" font-weight="400" text-anchor="start">min</text><text transform="translate(594.5,400.5) scale(0.96,1.04)" font-size="22" font-weight="400" text-anchor="start">11.0</text><text transform="translate(694.5,400.5) scale(0.96,1.04)" font-size="22" font-weight="400" text-anchor="start">12.0</text><text transform="translate(792.8,400.5) scale(0.96,1.04)" font-size="22" font-weight="400" text-anchor="start">13.0</text><text transform="translate(892.0,400.5) scale(0.96,1.04)" font-size="22" font-weight="400" text-anchor="start">14.0</text><text transform="translate(990.0,400.5) scale(0.96,1.04)" font-size="22" font-weight="400" text-anchor="start">min</text><text x="152.7" y="286.6" font-size="22" font-weight="700" text-anchor="start" class="n">9</text><text x="180.0" y="286.9" font-size="22" font-weight="700" text-anchor="start" class="n">6</text><text x="257.7" y="286.3" font-size="22" font-weight="700" text-anchor="start" class="n">10</text><text x="286.4" y="278.5" font-size="22" font-weight="700" text-anchor="start" class="n">11</text><text x="355.5" y="58.5" font-size="22" font-weight="700" text-anchor="start" class="n">1</text><text x="357.7" y="246.6" font-size="22" font-weight="700" text-anchor="start" class="n">7</text><text x="404.7" y="287.5" font-size="22" font-weight="700" text-anchor="start" class="n">5</text><text x="592.1" y="225.0" font-size="22" font-weight="700" text-anchor="start" class="n">8</text><text x="639.8" y="227.6" font-size="22" font-weight="700" text-anchor="start" class="n">9</text><text x="665.0" y="274.7" font-size="22" font-weight="700" text-anchor="start" class="n">6</text><text x="741.9" y="280.4" font-size="22" font-weight="700" text-anchor="start" class="n">10</text><text x="766.3" y="230.7" font-size="22" font-weight="700" text-anchor="start" class="n">11</text><text x="794.3" y="219.4" font-size="22" font-weight="700" text-anchor="start" class="n">12</text><text x="853.9" y="50.3" font-size="22" font-weight="700" text-anchor="start" class="n">1</text><text x="781.4" y="102.2" font-size="22" font-weight="700" text-anchor="start" class="n">13</text><text x="936.2" y="58.3" font-size="22" font-weight="700" text-anchor="start" class="n">5</text><text x="876.3" y="96.1" font-size="22" font-weight="700" text-anchor="start" class="n">16</text><text x="849.6" y="159.5" font-size="22" font-weight="700" text-anchor="start" class="n">7</text><text x="832.6" y="202.6" font-size="22" font-weight="700" text-anchor="start" class="n">14</text><text x="860.2" y="202.0" font-size="22" font-weight="700" text-anchor="start" class="n">15</text><text x="910.2" y="213.7" font-size="22" font-weight="700" text-anchor="start" class="n">17</text><text x="933.2" y="225.1" font-size="22" font-weight="700" text-anchor="start" class="n">18</text><text x="945.8" y="266.5" font-size="22" font-weight="700" text-anchor="start" class="n">19</text><use href="#ast" x="92.7" y="281.3"/><use href="#ast" x="232.2" y="222.0"/><use href="#ast" x="251.4" y="257.8"/><use href="#ast" x="556.3" y="283.4"/><use href="#ast" x="580.3" y="269.5"/><use href="#ast" x="632.4" y="266.4"/><use href="#ast" x="659.1" y="281.4"/><use href="#ast" x="683.0" y="269.3"/><use href="#ast" x="720.1" y="226.4"/><use href="#ast" x="739.0" y="219.6"/><use href="#ast" x="767.7" y="259.4"/><use href="#ast" x="793.9" y="224.3"/><use href="#ast" x="839.6" y="276.3"/><use href="#ast" x="876.6" y="270.4"/><line x1="853.3" y1="43.6" x2="842.20" y2="43.60" stroke="#111" stroke-width="2.0"/><path d="M835.90,43.60 L843.70,39.70 L843.00,43.60 L843.70,47.50 Z" fill="#111"/><line x1="806.7" y1="95.4" x2="817.10" y2="95.40" stroke="#111" stroke-width="2.0"/><path d="M823.40,95.40 L815.60,99.30 L816.30,95.40 L815.60,91.50 Z" fill="#111"/><line x1="930.6" y1="54.6" x2="919.60" y2="54.60" stroke="#111" stroke-width="2.0"/><path d="M913.30,54.60 L921.10,50.70 L920.40,54.60 L921.10,58.50 Z" fill="#111"/><line x1="777.3" y1="241.2" x2="777.30" y2="267.60" stroke="#111" stroke-width="2.0"/><path d="M777.30,273.90 L773.40,266.10 L777.30,266.80 L781.20,266.10 Z" fill="#111"/><line x1="810.5" y1="230.8" x2="816.53" y2="262.61" stroke="#111" stroke-width="2.0"/><path d="M817.70,268.80 L812.42,261.86 L816.38,261.82 L820.08,260.41 Z" fill="#111"/><line x1="844.0" y1="217.0" x2="846.49" y2="267.51" stroke="#111" stroke-width="2.0"/><path d="M846.80,273.80 L842.52,266.20 L846.45,266.71 L850.31,265.82 Z" fill="#111"/><line x1="920.2" y1="219.6" x2="919.99" y2="235.50" stroke="#111" stroke-width="2.0"/><path d="M919.90,241.80 L916.11,233.95 L920.00,234.70 L923.91,234.05 Z" fill="#111"/><line x1="943.6" y1="229.8" x2="935.72" y2="242.01" stroke="#111" stroke-width="2.0"/><path d="M932.30,247.30 L933.25,238.63 L936.15,241.34 L939.81,242.86 Z" fill="#111"/><line x1="958.4" y1="273.3" x2="948.20" y2="273.30" stroke="#111" stroke-width="2.0"/><path d="M941.90,273.30 L949.70,269.40 L949.00,273.30 L949.70,277.20 Z" fill="#111"/></svg>
</body></html>
